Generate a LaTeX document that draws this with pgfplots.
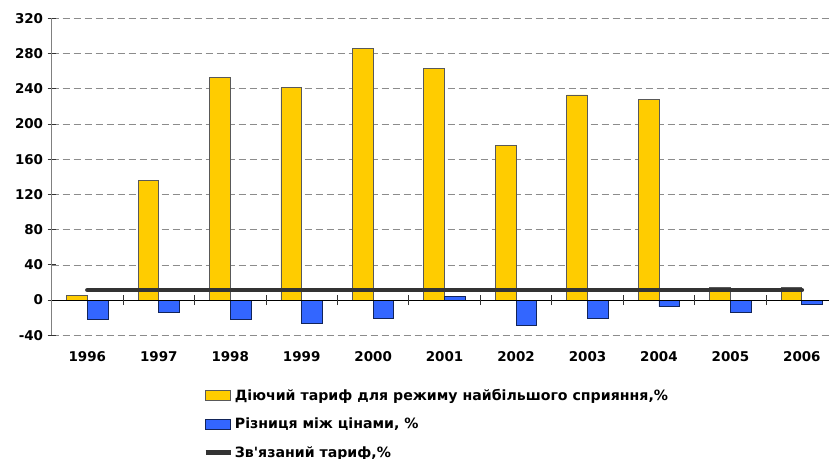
\documentclass[border=0pt]{standalone}
\usepackage{pgfplots}
\pgfplotsset{compat=1.18}
\usepackage{fontspec}
\setmainfont{DejaVu Sans}
\definecolor{yel}{HTML}{FFCC00}
\definecolor{blu}{HTML}{3366FF}
\definecolor{dline}{HTML}{333333}
\pgfplotsset{
  baricon/.style={legend image code/.code={\draw[##1] (0bp,-5bp) rectangle (25bp,5bp);}},
  lineicon/.style={legend image code/.code={\draw[##1, line cap=butt] (0bp,0bp) -- (25bp,0bp);}},
}
\begin{document}
\begin{tikzpicture}
\begin{axis}[name=ax, scale only axis, width=777.4bp, height=317bp,
  xmin=-0.5, xmax=10.38, ymin=-40, ymax=320,
  axis x line=bottom, axis y line*=left,
  x axis line style={draw=none},
  y axis line style={draw=gray, line width=0.9bp, -},
  xtick={0,...,10},
  xticklabels={\textbf{1996},\textbf{1997},\textbf{1998},\textbf{1999},\textbf{2000},\textbf{2001},\textbf{2002},\textbf{2003},\textbf{2004},\textbf{2005},\textbf{2006}},
  major x tick style={draw=none},
  ytick={-40,0,40,80,120,160,200,240,280,320},
  yticklabels={\textbf{-40},\textbf{0},\textbf{40},\textbf{80},\textbf{120},\textbf{160},\textbf{200},\textbf{240},\textbf{280},\textbf{320}},
  major y tick style={draw=black!80, line width=0.8bp},
  tick align=center, major tick length=8bp,
  ymajorgrids, grid style={draw=black!45, line width=0.7bp, dash pattern=on 7bp off 4bp},
  ticklabel style={font=\fontsize{13.5}{15}\selectfont},
  xticklabel style={yshift=-9bp},
  yticklabel style={xshift=-1bp},
  legend style={at={(0.195,-0.162)}, anchor=north west, draw=none, fill=none,
    font=\fontsize{14.2}{16}\selectfont\bfseries, row sep=12.3bp, inner sep=0pt},
  legend cell align=left,
  clip=false,
]
\addplot[ybar, bar width=20.7bp, bar shift=-10.35bp, fill=yel, draw=black!65, line width=0.8bp, baricon]
  coordinates {(0,5) (1,136) (2,253) (3,241) (4,286) (5,263) (6,176) (7,233) (8,228) (9,14) (10,14)};
\addlegendentry{Діючий тариф для режиму найбільшого сприяння,\%}
\addplot[ybar, bar width=20.7bp, bar shift=10.35bp, fill=blu, draw=blu!35!black, line width=0.8bp, baricon]
  coordinates {(0,-22) (1,-14) (2,-22) (3,-27) (4,-20.5) (5,4) (6,-29) (7,-21) (8,-7.5) (9,-14) (10,-4.5)};
\addlegendentry{Різниця між цінами, \%}
\addplot[dline, line width=4.5bp, line cap=round, lineicon]
  coordinates {(0,11.5) (10,11.5)};
\addlegendentry{Зв\textquotesingle язаний тариф,\%}
\draw[black, line width=0.8bp] (axis cs:-0.5,0) -- (axis cs:10.38,0);
\pgfplotsinvokeforeach{0.5,1.5,2.5,3.5,4.5,5.5,6.5,7.5,8.5,9.5}{
  \draw[black!80, line width=0.8bp] ([yshift=-5bp]axis cs:#1,0) -- ([yshift=5bp]axis cs:#1,0);
}
\end{axis}
\pgfresetboundingbox
\path[use as bounding box] ([xshift=-51.6bp, yshift=-123.7bp]ax.south west) rectangle ([yshift=18.3bp]ax.north east);
\end{tikzpicture}
\end{document}
